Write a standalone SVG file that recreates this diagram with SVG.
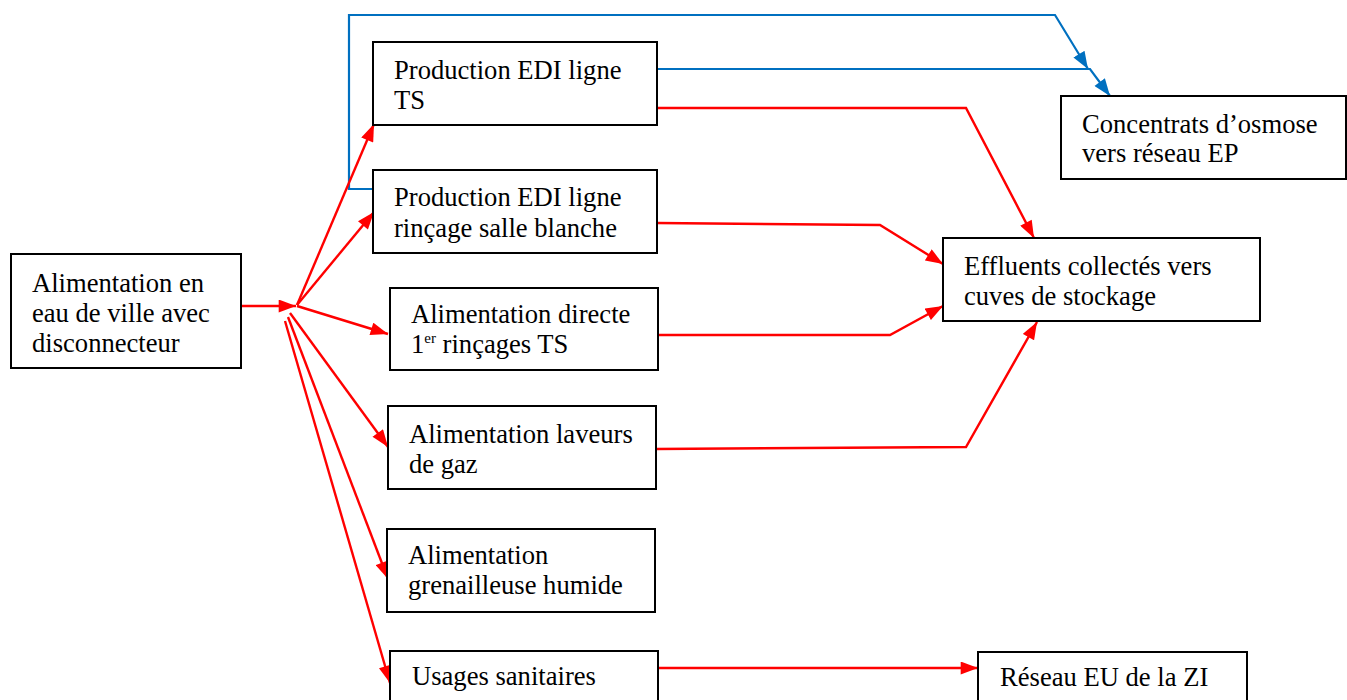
<svg xmlns="http://www.w3.org/2000/svg" width="1347" height="700" viewBox="0 0 1347 700">
<style>
.box{fill:#fff;stroke:#000;stroke-width:2}
.t{font-family:"Liberation Serif","Times New Roman",serif;font-size:26.6px;fill:#000}
.sup{font-size:15px}
.r{fill:none;stroke:#FF0000;stroke-width:2.4;marker-end:url(#ar)}
.b{fill:none;stroke:#0070C0;stroke-width:2.2;marker-end:url(#ab)}
</style>
<defs>
<marker id="ar" viewBox="0 0 16 12" refX="16" refY="6" markerWidth="18" markerHeight="13" markerUnits="userSpaceOnUse" orient="auto"><path d="M0,0 L16,6 L0,12 z" fill="#FF0000"/></marker>
<marker id="ab" viewBox="0 0 16 12" refX="16" refY="6" markerWidth="18" markerHeight="13" markerUnits="userSpaceOnUse" orient="auto"><path d="M0,0 L16,6 L0,12 z" fill="#0070C0"/></marker>
</defs>
<rect width="1347" height="700" fill="#fff"/>
<g id="connectors">
<path class="b" d="M373,189 L349,189 L349,15 L1055,15 L1088,69"/>
<path class="b" d="M653,69 L1090,69 L1110,96"/>
<path class="r" d="M241,306 L296,306"/>
<path class="r" d="M297,305 L374,124"/>
<path class="r" d="M297,305 L374,212"/>
<path class="r" d="M297,306 L388,334"/>
<path class="r" d="M290,313 L388,447"/>
<path class="r" d="M288,317 L388,579"/>
<path class="r" d="M285,321 L390,683"/>
<path class="r" d="M657,108 L966,108 L1034,238"/>
<path class="r" d="M657,223 L880,225 L943,264"/>
<path class="r" d="M658,335 L890,335 L943,306"/>
<path class="r" d="M656,449 L966,447 L1037,322"/>
<path class="r" d="M654,668 L978,668"/>
</g>
<g id="n-alim-ville"><rect class="box" x="11" y="254" width="230" height="114"/><text class="t" x="32" y="292">Alimentation en</text><text class="t" x="32" y="322">eau de ville avec</text><text class="t" x="32" y="352">disconnecteur</text></g>
<g id="n-edi-ts"><rect class="box" x="373" y="42" width="284" height="83"/><text class="t" x="394" y="79">Production EDI ligne</text><text class="t" x="394" y="109">TS</text></g>
<g id="n-edi-rincage"><rect class="box" x="373" y="170" width="284" height="83"/><text class="t" x="394" y="206">Production EDI ligne</text><text class="t" x="394" y="237">rinçage salle blanche</text></g>
<g id="n-alim-directe"><rect class="box" x="390" y="288" width="268" height="82"/><text class="t" x="411" y="323">Alimentation directe</text><text class="t" x="411" y="353">1<tspan class="sup" dy="-10">er</tspan><tspan dy="10"> rinçages TS</tspan></text></g>
<g id="n-laveurs"><rect class="box" x="388" y="406" width="268" height="83"/><text class="t" x="409" y="443">Alimentation laveurs</text><text class="t" x="409" y="473">de gaz</text></g>
<g id="n-grenailleuse"><rect class="box" x="387" y="529" width="268" height="83"/><text class="t" x="408" y="564">Alimentation</text><text class="t" x="408" y="594">grenailleuse humide</text></g>
<g id="n-sanitaires"><rect class="box" x="390" y="651" width="268" height="60"/><text class="t" x="412" y="685">Usages sanitaires</text></g>
<g id="n-concentrats"><rect class="box" x="1061" y="96" width="285" height="83"/><text class="t" x="1082" y="133">Concentrats d’osmose</text><text class="t" x="1082" y="162">vers réseau EP</text></g>
<g id="n-effluents"><rect class="box" x="943" y="238" width="317" height="83"/><text class="t" x="964" y="275">Effluents collectés vers</text><text class="t" x="964" y="305">cuves de stockage</text></g>
<g id="n-reseau-eu"><rect class="box" x="978" y="652" width="269" height="60"/><text class="t" x="1000" y="686">Réseau EU de la ZI</text></g>
</svg>
